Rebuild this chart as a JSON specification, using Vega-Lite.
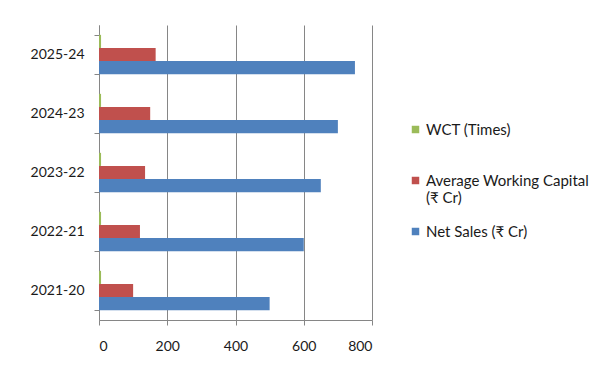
{
  "$schema": "https://vega.github.io/schema/vega-lite/v6.json",
  "autosize": "none",
  "width": 273,
  "height": 295,
  "padding": {"left": 99, "top": 25, "right": 223, "bottom": 49},
  "background": "white",
  "config": {
    "view": {"stroke": null},
    "font": "Lato",
    "axis": {
      "labelFont": "Lato",
      "labelFontSize": 14,
      "labelColor": "#1a1a1a",
      "domainColor": "#868686",
      "tickColor": "#868686",
      "gridColor": "#868686",
      "gridOpacity": 1,
      "tickSize": 5,
      "title": null
    }
  },
  "data": {
    "values": [
      {"year": "2025-24", "series": "WCT (Times)", "value": 6},
      {"year": "2025-24", "series": "Average Working Capital (₹ Cr)", "value": 166},
      {"year": "2025-24", "series": "Net Sales (₹ Cr)", "value": 750},
      {"year": "2024-23", "series": "WCT (Times)", "value": 6},
      {"year": "2024-23", "series": "Average Working Capital (₹ Cr)", "value": 150},
      {"year": "2024-23", "series": "Net Sales (₹ Cr)", "value": 700},
      {"year": "2023-22", "series": "WCT (Times)", "value": 6},
      {"year": "2023-22", "series": "Average Working Capital (₹ Cr)", "value": 135},
      {"year": "2023-22", "series": "Net Sales (₹ Cr)", "value": 650},
      {"year": "2022-21", "series": "WCT (Times)", "value": 6},
      {"year": "2022-21", "series": "Average Working Capital (₹ Cr)", "value": 120},
      {"year": "2022-21", "series": "Net Sales (₹ Cr)", "value": 600},
      {"year": "2021-20", "series": "WCT (Times)", "value": 6},
      {"year": "2021-20", "series": "Average Working Capital (₹ Cr)", "value": 100},
      {"year": "2021-20", "series": "Net Sales (₹ Cr)", "value": 500}
    ]
  },
  "mark": {"type": "bar"},
  "encoding": {
    "y": {
      "field": "year",
      "type": "nominal",
      "sort": ["2025-24", "2024-23", "2023-22", "2022-21", "2021-20"],
      "scale": {"paddingInner": 0.3333, "paddingOuter": 0.1667},
      "axis": {"tickBand": "extent", "labelPadding": 10, "grid": false}
    },
    "yOffset": {
      "field": "series",
      "type": "nominal",
      "sort": ["WCT (Times)", "Average Working Capital (₹ Cr)", "Net Sales (₹ Cr)"],
      "scale": {"paddingInner": 0, "paddingOuter": 0}
    },
    "x": {
      "field": "value",
      "type": "quantitative",
      "scale": {"domain": [0, 800], "nice": false},
      "axis": {"values": [0, 200, 400, 600, 800], "grid": true, "labelPadding": 14}
    },
    "color": {
      "field": "series",
      "type": "nominal",
      "scale": {
        "domain": ["WCT (Times)", "Average Working Capital (₹ Cr)", "Net Sales (₹ Cr)"],
        "range": ["#9BBB59", "#C0504D", "#4F81BD"]
      },
      "legend": {
        "title": null,
        "orient": "none",
        "legendX": 309,
        "legendY": 97,
        "symbolType": "square",
        "symbolSize": 56,
        "symbolStrokeWidth": 0,
        "labelFont": "Lato",
        "labelFontSize": 15,
        "labelColor": "#1a1a1a",
        "labelLimit": 300,
        "labelOffset": 3,
        "rowPadding": 18,
        "labelExpr": "datum.label == 'Average Working Capital (₹ Cr)' ? ['Average Working Capital', '(₹ Cr)'] : [datum.label, ' ']"
      }
    }
  }
}
